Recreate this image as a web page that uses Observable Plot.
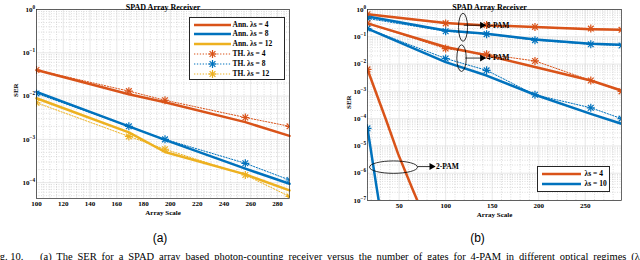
<!DOCTYPE html>
<html><head><meta charset="utf-8">
<script src="https://cdn.jsdelivr.net/npm/d3@7"></script>
<script src="https://cdn.jsdelivr.net/npm/@observablehq/plot@0.6"></script>
<style>
html,body{margin:0;padding:0;background:#fff;}
#root{position:relative;width:640px;height:260px;overflow:hidden;background:#fff;}
.panel{position:absolute;top:0;width:320px;}
.leg{position:absolute;background:#fff;border:0.8px solid #262626;box-sizing:border-box;}
.legrow{position:absolute;height:10px;line-height:10px;font:bold 7.5px "Liberation Serif","Times New Roman",serif;color:#000;white-space:nowrap;}
.sw{position:absolute;}
.sub{position:absolute;font:12px "Liberation Sans",Arial,sans-serif;transform:translate(-50%,-50%);}
.cap{position:absolute;font:10.5px "Liberation Serif","Times New Roman",serif;line-height:12px;color:#000;}
</style></head><body><div id="root"></div>
<script>
// ---------------- DATA ----------------
// Panel (a): SER vs array scale, 4-PAM
const scaleA = [100, 169, 196, 256, 289];
const annA4  = [4.0e-2, 1.1e-2, 7.2e-3, 2.5e-3, 1.2e-3];
const annA8  = [1.25e-2, 2.0e-3, 9.7e-4, 2.1e-4, 9.4e-5];
const annA12 = [8.9e-3, 1.45e-3, 5.1e-4, 1.55e-4, 6.6e-5];
const thA4   = [4.0e-2, 1.3e-2, 8.0e-3, 3.2e-3, 2.0e-3];
const thA8   = [1.15e-2, 2.0e-3, 1.0e-3, 2.8e-4, 1.15e-4];
const thA12  = [7.0e-3, 1.17e-3, 5.9e-4, 1.5e-4, 4.8e-5];
const xTicksA = [100, 120, 140, 160, 180, 200, 220, 240, 260, 280];
const yTicksA = [1, 1e-1, 1e-2, 1e-3, 1e-4];
const legendA = ["Ann. λs = 4", "Ann. λs = 8", "Ann. λs = 12", "TH. λs = 4", "TH. λs = 8", "TH. λs = 12"];

// Panel (b): 8-PAM, 4-PAM, 2-PAM
const scaleB = [16, 100, 144, 196, 256, 289];
const ann8L4  = [0.67, 0.32, 0.26, 0.23, 0.19, 0.18];
const th8L4   = [0.67, 0.31, 0.27, 0.23, 0.20, 0.18];
const ann8L10 = [0.55, 0.17, 0.13, 0.079, 0.056, 0.051];
const th8L10  = [0.47, 0.16, 0.125, 0.075, 0.053, 0.048];
const ann4L4  = [0.31, 0.042, 0.021, 7.8e-3, 2.5e-3, 1.07e-3];
const th4L4   = [0.31, 0.037, 0.023, 0.013, 2.5e-3, 1.0e-3];
const ann4L10 = [0.20, 0.0118, 3.8e-3, 7.5e-4, 1.5e-4, 6.5e-5];
const th4L10  = [0.20, 0.016, 5.9e-3, 7.5e-4, 2.5e-4, 1.0e-4];
const scale2L4  = [16, 25, 36, 49, 64, 81];
const ann2L4    = [6.4e-3, 9.3e-4, 8.9e-5, 5.0e-6, 2.8e-7, 1.2e-8];
const scale2L10 = [16, 25, 36];
const ann2L10   = [4.4e-5, 4.5e-7, 2.0e-9];
const th2Scale  = [16];
const th2L4     = [6.4e-3];
const th2L10    = [4.4e-5];
const xTicksB = [50, 100, 150, 200, 250];
const yTicksB = [1, 1e-1, 1e-2, 1e-3, 1e-4, 1e-5, 1e-6, 1e-7];
const legendB = ["λs = 4", "λs = 10"];
// annotations (data coordinates)
const annoLabels  = ["8-PAM", "4-PAM", "2-PAM"];
const annoEllX    = [119.2, 117.6, 44.5];
const annoEllY    = [0.214, 0.0158, 1.6e-6];
const annoArrowX1 = [119.5, 121, 70];
const annoArrowX2 = [143, 143, 88.6];
const annoArrowY  = [0.265, 0.0166, 1.75e-6];

const titleText = "SPAD Array Receiver";
const xLabel = "Array Scale";
const yLabel = "SER";

// ---------------- STYLE ----------------
const red = "#D95319", blue = "#0072BD", yellow = "#EDB120";
const serif = '"Liberation Serif","Times New Roman",serif';
const powFmt = d => "10^" + Math.round(Math.log10(d));
const rowsOf = (xs, ys, series) => ys.map((v, i) => ({x: xs[i], y: v, series}));

function gridMarks(xMajor, xMinor, yDomain) {
  const yAll = d3.scaleLog().domain(yDomain).ticks();
  const yMajor = yAll.filter(v => Math.abs(Math.log10(v) - Math.round(Math.log10(v))) < 1e-9);
  const yMinor = yAll.filter(v => !yMajor.includes(v));
  return [
    Plot.ruleX(xMinor, {stroke: "#b8b8b8", strokeWidth: 0.5, strokeDasharray: "1,1.5"}),
    Plot.ruleY(yMinor, {stroke: "#b8b8b8", strokeWidth: 0.5, strokeDasharray: "1,1.5"}),
    Plot.ruleX(xMajor, {stroke: "#d6d6d6", strokeWidth: 0.6}),
    Plot.ruleY(yMajor, {stroke: "#d6d6d6", strokeWidth: 0.6})
  ];
}
function starMarks(rows, colorOf) {
  return [
    Plot.dot(rows, {x: "x", y: "y", symbol: "plus", r: 2.7, stroke: d => colorOf[d.series], strokeWidth: 1.2, fill: "none", clip: true}),
    Plot.dot(rows, {x: "x", y: "y", symbol: "times", r: 2.7, stroke: d => colorOf[d.series], strokeWidth: 1.2, fill: "none", clip: true})
  ];
}
function labelMarks(titleDx) {
  return [
    Plot.text([titleText], {text: d => d, frameAnchor: "top", dy: -5, dx: titleDx, fontWeight: "bold", fontSize: 8}),
    Plot.text([xLabel], {text: d => d, frameAnchor: "bottom", dy: 16.5, fontWeight: "bold", fontSize: 7}),
  ];
}
// turn "10^-3" tick labels into 10 with a raised exponent
function superscripts(svg) {
  svg.querySelectorAll("text").forEach(t => {
    const m = /^10\^(-?\d+)$/.exec(t.textContent);
    if (!m) return;
    t.textContent = "10";
    const ns = "http://www.w3.org/2000/svg";
    const s = document.createElementNS(ns, "tspan");
    s.setAttribute("dy", "-3");
    s.setAttribute("font-size", "5.2");
    s.textContent = m[1].replace("-", "\u2212");
    t.appendChild(s);
  });
}

const root = document.getElementById("root");

// ---------------- PANEL (a) ----------------
const colA = {"4": red, "8": blue, "12": yellow};
const annRowsA = [...rowsOf(scaleA, annA4, "4"), ...rowsOf(scaleA, annA8, "8"), ...rowsOf(scaleA, annA12, "12")];
const thRowsA  = [...rowsOf(scaleA, thA4, "4"), ...rowsOf(scaleA, thA8, "8"), ...rowsOf(scaleA, thA12, "12")];
const yDomA = [4.3e-5, 1];
const plotA = Plot.plot({
  width: 320, height: 226,
  marginLeft: 36, marginRight: 31, marginTop: 9, marginBottom: 28,
  style: {fontFamily: serif, fontWeight: "bold", fontSize: "7px", color: "#000", background: "transparent", overflow: "visible"},
  color: {type: "identity"},
  x: {domain: [100, 289], ticks: xTicksA, tickSize: 0, tickPadding: 3, label: null},
  y: {type: "log", domain: yDomA, ticks: yTicksA, tickFormat: powFmt, tickSize: 0, tickPadding: 1.5, label: null},
  marks: [
    ...gridMarks(xTicksA, d3.range(105, 289, 5).filter(v => v % 20 !== 0), yDomA),
    Plot.line(thRowsA, {x: "x", y: "y", z: "series", stroke: d => colA[d.series], strokeWidth: 1, strokeDasharray: "1.3,1.6"}),
    Plot.line(annRowsA, {x: "x", y: "y", z: "series", stroke: d => colA[d.series], strokeWidth: 2.5}),
    ...starMarks(thRowsA, colA),
    Plot.frame({stroke: "#262626", strokeWidth: 0.7}),
    ...labelMarks(0),
    Plot.text([yLabel], {text: d => d, frameAnchor: "left", dx: -21, dy: -7, rotate: -90, fontWeight: "bold", fontSize: 7})
  ]
});
superscripts(plotA);
const divA = document.createElement("div"); divA.className = "panel"; divA.style.left = "0px";
divA.appendChild(plotA); root.appendChild(divA);

// ---------------- PANEL (b) ----------------
const colB = {"4": red, "10": blue};
const annRowsB = [
  ...rowsOf(scaleB, ann8L4, "4").map(d => ({...d, g: "8-4"})),
  ...rowsOf(scaleB, ann8L10, "10").map(d => ({...d, g: "8-10"})),
  ...rowsOf(scaleB, ann4L4, "4").map(d => ({...d, g: "4-4"})),
  ...rowsOf(scaleB, ann4L10, "10").map(d => ({...d, g: "4-10"})),
  ...rowsOf(scale2L4, ann2L4, "4").map(d => ({...d, g: "2-4"})),
  ...rowsOf(scale2L10, ann2L10, "10").map(d => ({...d, g: "2-10"}))
];
const thRowsB = [
  ...rowsOf(scaleB, th8L4, "4").map(d => ({...d, g: "8-4"})),
  ...rowsOf(scaleB, th8L10, "10").map(d => ({...d, g: "8-10"})),
  ...rowsOf(scaleB, th4L4, "4").map(d => ({...d, g: "4-4"})),
  ...rowsOf(scaleB, th4L10, "10").map(d => ({...d, g: "4-10"})),
  ...rowsOf(th2Scale, th2L4, "4").map(d => ({...d, g: "2-4"})),
  ...rowsOf(th2Scale, th2L10, "10").map(d => ({...d, g: "2-10"}))
];
const annos = annoLabels.map((label, i) => ({label, ex: annoEllX[i], ey: annoEllY[i], x1: annoArrowX1[i], x2: annoArrowX2[i], y: annoArrowY[i]}));
const ellRx = [4.5, 4.7, 24], ellRy = [14, 13.3, 6.2];
const ellipseMark = (index, scales) => {
  const g = d3.create("svg:g").attr("fill", "none").attr("stroke", "#000").attr("stroke-width", 0.8);
  annos.forEach((a, i) => {
    g.append("ellipse").attr("cx", scales.x(a.ex)).attr("cy", scales.y(a.ey)).attr("rx", ellRx[i]).attr("ry", ellRy[i]);
  });
  return g.node();
};
const yDomB = [1e-7, 1];
const plotB = Plot.plot({
  width: 320, height: 226,
  marginLeft: 47, marginRight: 19, marginTop: 9, marginBottom: 26,
  style: {fontFamily: serif, fontWeight: "bold", fontSize: "7px", color: "#000", background: "transparent", overflow: "visible"},
  color: {type: "identity"},
  x: {domain: [16, 289], ticks: xTicksB, tickSize: 0, tickPadding: 3, label: null},
  y: {type: "log", domain: yDomB, ticks: yTicksB, tickFormat: powFmt, tickSize: 0, tickPadding: 1.5, label: null},
  marks: [
    ...gridMarks(xTicksB, d3.range(20, 289, 10).filter(v => v % 50 !== 0), yDomB),
    Plot.line(thRowsB, {x: "x", y: "y", z: "g", stroke: d => colB[d.series], strokeWidth: 1, strokeDasharray: "1.3,1.6", clip: true}),
    Plot.line(annRowsB, {x: "x", y: "y", z: "g", stroke: d => colB[d.series], strokeWidth: 2.5, clip: true}),
    ...starMarks(thRowsB, colB),
    Plot.frame({stroke: "#262626", strokeWidth: 0.7}),
    ellipseMark,
    Plot.link(annos, {x1: "x1", x2: "x2", y1: "y", y2: "y", stroke: "#000", strokeWidth: 0.8}),
    Plot.dot(annos, {x: "x2", y: "y", symbol: "triangle", rotate: 90, r: 2.6, fill: "#000", stroke: "none", dx: -3.5}),
    Plot.text(annos, {x: "x2", y: "y", text: "label", textAnchor: "start", dx: 1, fontWeight: "bold", fontSize: 7.5}),
    ...labelMarks(-5),
    Plot.text([yLabel], {text: d => d, frameAnchor: "left", dx: -19, dy: 4, rotate: -90, fontWeight: "bold", fontSize: 7})
  ]
});
superscripts(plotB);
const divB = document.createElement("div"); divB.className = "panel"; divB.style.left = "320px";
divB.appendChild(plotB); root.appendChild(divB);

// ---------------- LEGENDS ----------------
function swatch(color, dotted, star, w) {
  const ns = "http://www.w3.org/2000/svg";
  const s = document.createElementNS(ns, "svg");
  s.setAttribute("width", w); s.setAttribute("height", 10);
  const l = document.createElementNS(ns, "line");
  l.setAttribute("x1", 0); l.setAttribute("x2", w); l.setAttribute("y1", 5); l.setAttribute("y2", 5);
  l.setAttribute("stroke", color); l.setAttribute("stroke-width", dotted ? 1 : 2.5);
  if (dotted) l.setAttribute("stroke-dasharray", "1.3,1.6");
  s.appendChild(l);
  if (star) {
    const c = w / 2;
    [[c - 4, 5, c + 4, 5], [c, 1, c, 9], [c - 2.9, 2.1, c + 2.9, 7.9], [c - 2.9, 7.9, c + 2.9, 2.1]].forEach(p => {
      const k = document.createElementNS(ns, "line");
      k.setAttribute("x1", p[0]); k.setAttribute("y1", p[1]); k.setAttribute("x2", p[2]); k.setAttribute("y2", p[3]);
      k.setAttribute("stroke", color); k.setAttribute("stroke-width", 1.2);
      s.appendChild(k);
    });
  }
  return s;
}
function legend(box, items) {
  const d = document.createElement("div"); d.className = "leg";
  Object.assign(d.style, {left: box.left + "px", top: box.top + "px", width: box.w + "px", height: box.h + "px"});
  items.forEach(it => {
    const sw = swatch(it.color, it.dotted, it.star, box.sw);
    sw.setAttribute("class", "sw");
    Object.assign(sw.style, {left: box.swx + "px", top: (it.cy - 5) + "px"});
    d.appendChild(sw);
    const t = document.createElement("div"); t.className = "legrow"; t.textContent = it.label;
    Object.assign(t.style, {left: box.tx + "px", top: (it.cy - 5) + "px"});
    d.appendChild(t);
  });
  root.appendChild(d);
}
const legColsA = [red, blue, yellow, red, blue, yellow];
legend({left: 189, top: 17, w: 96, h: 63, sw: 37, swx: 3.5, tx: 42.5},
  legendA.map((label, i) => ({label, color: legColsA[i], dotted: i >= 3, star: i >= 3, cy: 6.5 + i * 9.8})));
legend({left: 537, top: 166, w: 73, h: 26, sw: 39, swx: 4, tx: 46.5},
  legendB.map((label, i) => ({label, color: [red, blue][i], dotted: false, star: false, cy: 6.8 + i * 10})));

// ---------------- SUB-LABELS & CAPTION ----------------
[["(a)", 160, 238], ["(b)", 477.5, 238]].forEach(([t, x, y]) => {
  const d = document.createElement("div"); d.className = "sub"; d.textContent = t;
  d.style.left = x + "px"; d.style.top = y + "px"; root.appendChild(d);
});
const c1 = document.createElement("div"); c1.className = "cap"; c1.textContent = "Fig. 10.";
Object.assign(c1.style, {left: "-9px", top: "251px", whiteSpace: "nowrap"}); root.appendChild(c1);
const c2 = document.createElement("div"); c2.className = "cap";
c2.textContent = "(a) The SER for a SPAD array based photon-counting receiver versus the number of gates for 4-PAM in different optical regimes (λs";
Object.assign(c2.style, {left: "40px", top: "251px", width: "604px", textAlign: "justify", textAlignLast: "justify"});
root.appendChild(c2);
</script></body></html>
